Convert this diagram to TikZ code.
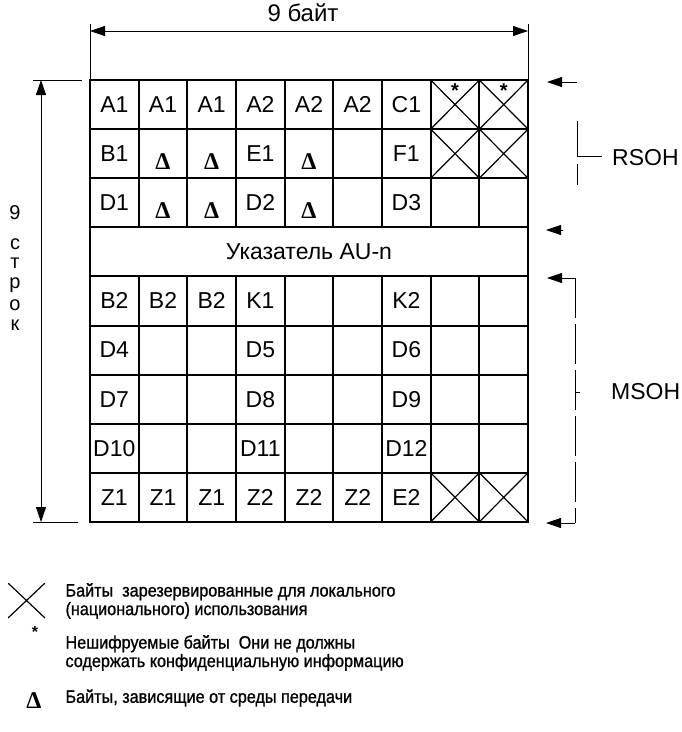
\documentclass[tikz,border=0pt]{standalone}
\usepackage{fontspec}
\setmainfont{Liberation Sans}
\newfontfamily\legendfont[FakeStretch=0.9, FakeBold=1]{Liberation Sans}
\newfontfamily\deltafont{Liberation Serif}
\usetikzlibrary{arrows.meta}
\tikzset{every node/.append style={font=\fontsize{23}{26}\selectfont}}
\tikzset{
  cell/.style={draw, line width=2pt, minimum width=48.67pt, minimum height=49.1pt, inner sep=0pt, outer sep=0pt},
  xline/.style={line width=1.2pt},
  dim/.style={line width=0.8pt, <->},
  ext/.style={line width=0.7pt},
  nocrypt/.style={font=\fontsize{20}{20}\selectfont\bfseries, inner sep=5pt},
  legend/.style={anchor=west, align=left, font=\legendfont\fontsize{18}{18.5}\selectfont},
}
\newcommand{\dlt}{\smash{\raisebox{-16pt}{\deltafont\bfseries\fontsize{24}{24}\selectfont Δ}}}

\begin{document}
\begin{tikzpicture}[x=1pt, y=-1pt, >={Triangle[length=15pt,width=10pt]}]
    \useasboundingbox (0,0) rectangle (682,732);
    % frame: 9 rows of 9 bytes
    \foreach \r/\row in {0/{A1,A1,A1,A2,A2,A2,C1,,}, 1/{B1,\dlt,\dlt,E1,\dlt,,F1,,},
        2/{D1,\dlt,\dlt,D2,\dlt,,D3,,}, 4/{B2,B2,B2,K1,,,K2,,}, 5/{D4,,,D5,,,D6,,},
        6/{D7,,,D8,,,D9,,}, 7/{D10,,,D11,,,D12,,}, 8/{Z1,Z1,Z1,Z2,Z2,Z2,E2,,}}
        \foreach [count=\c from 0] \t in \row
            \node[cell] (r\r-\c) at ({90+(\c+0.5)*48.67}, {80+(\r+0.5)*49.1}) {\t};
    \node[cell, minimum width=438pt] (ptr) at (309, {80+3.5*49.1}) {Указатель AU-n};
    % reserved bytes
    \foreach \n in {r0-7, r0-8, r1-7, r1-8, r8-7, r8-8}
        \draw[xline] (\n.north west) -- (\n.south east) (\n.north east) -- (\n.south west);
    \foreach \n in {r0-7, r0-8}
        \node[nocrypt, anchor=north, inner sep=4pt] (s\n) at (\n.north) {*};

    % top: 9 bytes
    \draw[ext] (r0-0.north west) -- ++(0,-56);
    \draw[ext] (r0-8.north east) -- ++(0,-56);
    \coordinate (topl) at (90,31);
    \coordinate (topr) at (528,31);
    \draw[dim] (topl) -- (topr);
    \node[font=\fontsize{24}{26}\selectfont] (bytes) at (303,13) {9 байт};

    % left: 9 rows
    \draw[ext] ([xshift=-8pt]r0-0.north west) -- ++(-49,0);
    \draw[ext] ([xshift=-12pt]r8-0.south west) -- ++(-45,0);
    \coordinate (lefttop) at (41,80);
    \coordinate (leftbot) at (41,522);
    \draw[dim] (lefttop) -- (leftbot);
    \foreach \ch/\yy in {9/219, с/249, т/268, р/288, о/310, к/330}
        \node[anchor=base, inner sep=0pt, font=\fontsize{20}{22}\selectfont] (v\yy) at (15,\yy) {\ch};

    % right: RSOH
    \coordinate (rs1) at (577,82);
    \coordinate (rs2) at (563,230);
    \draw[->, line width=0.8pt] (rs1) -- (547,82);
    \draw[->, line width=0.8pt] (rs2) -- (546,230);
    \draw[ext] (577,121) -- (577,156) -- (602,156);
    \draw[ext] (577,164) -- (577,185);
    \node[anchor=west, inner sep=0pt] (rsoh) at (612,158) {RSOH};

    % right: MSOH
    \coordinate (ms1) at (575,278);
    \coordinate (ms2) at (575,523);
    \draw[->, line width=0.8pt] (ms1) -- (547,278);
    \draw[->, line width=0.8pt] (ms2) -- (546,523);
    \draw[ext, dash pattern=on 40pt off 6pt] (ms1) -- (ms2);
    \draw[ext] (575,392) -- (580,392);
    \node[anchor=west, inner sep=0pt] (msoh) at (611,392) {MSOH};

    % legend
    \node[minimum width=37pt, minimum height=35pt, inner sep=0pt,
        path picture={\draw[xline] (path picture bounding box.north west) -- (path picture bounding box.south east)
        (path picture bounding box.north east) -- (path picture bounding box.south west);}] (legx) at (26.5,600.5) {};
    \node[legend] (legxt) at (62,601) {Байты\ \ зарезервированные для локального\\(национального) использования};
    \node[nocrypt, font=\fontsize{16}{16}\selectfont\bfseries] (legs) at (35,632) {*};
    \node[legend] (legst) at (62,653) {Нешифруемые байты\ \ Они не должны\\содержать конфиденциальную информацию};
    \node[font=\deltafont\bfseries\fontsize{24}{24}\selectfont] (legd) at (34,701) {Δ};
    \node[legend] (legdt) at (62,698) {Байты, зависящие от среды передачи};
\end{tikzpicture}
\end{document}
